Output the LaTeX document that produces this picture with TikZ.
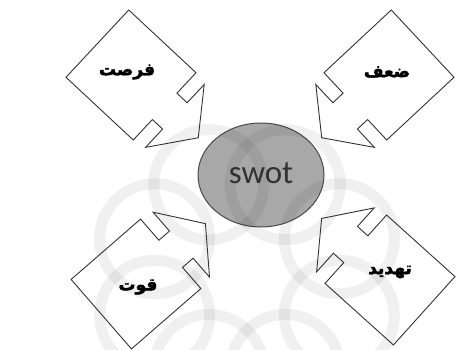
\documentclass[tikz,border=0pt]{standalone}
\usepackage{fontspec}
\usetikzlibrary{calc}
\newfontfamily\arabicfont[Script=Arabic,FakeBold=2.5]{DejaVu Sans}
\newfontfamily\swotfont{Carlito}
\TeXXeTstate=1
\definecolor{boxline}{HTML}{333333}
\definecolor{ovalfill}{HTML}{A8A8A8}
\definecolor{ovalline}{HTML}{4A4A4A}

% square box with an arrow on one side, #1 = centre, #2 = direction
\newcommand{\swotbox}[2]{%
\begin{scope}[shift={#1},rotate=#2]
\draw [boxline,line width=0.9pt,line join=miter] (-46,-46) -- (46,-46) -- (46,-18) -- (60,-18) -- (60,-43) -- (92,0) -- (60,43) -- (60,18) -- (46,18) -- (46,46) -- (-46,46) -- cycle;
\end{scope}}

\begin{document}
\begin{tikzpicture}[x=1pt,y=1pt]
\tikzstyle{every node}+=[inner sep=0pt]
\tikzstyle{lbl}=[font=\arabicfont\bfseries\fontsize{17}{17}\selectfont]
\tikzstyle{wmark}=[black,opacity=0.06,line width=11pt]
\useasboundingbox (0,0) rectangle (456,349);
% centre
\draw [ovalline,fill=ovalfill,line width=1pt] (261,174) ellipse (63 and 52);
\node (swot) at (261,176) {\swotfont\fontsize{33}{33}\selectfont\color{boxline}swot};
% faint watermark
\coordinate (wm) at (247,72);
\foreach \a in {0,45,...,315}
  \draw [wmark] ($(wm)+(\a+22.5:100)$) circle (55);
% the four boxes
\swotbox{(131,274)}{-43}
\swotbox{(389,274)}{-137}
\swotbox{(136,65)}{41}
\swotbox{(390,69)}{138}
\node [lbl] (opp) at (127,277) {\beginR فرصت\endR};
\node [lbl] (weak) at (387,277) {\beginR ضعف\endR};
\node [lbl] (str) at (138,62) {\beginR قوت\endR};
\node [lbl] (thr) at (390,77) {\beginR تهدید\endR};
\end{tikzpicture}
\end{document}
